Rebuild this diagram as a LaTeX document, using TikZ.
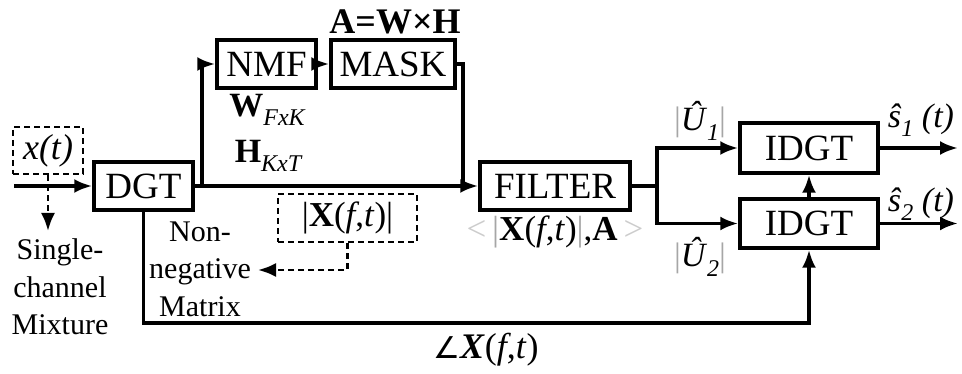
\documentclass[tikz,border=0pt]{standalone}
\usepackage{fontspec}
\setmainfont{Liberation Serif}
\newfontfamily\symfont{DejaVu Sans}
\usetikzlibrary{positioning,arrows.meta,calc}
\newcommand\lowsub[1]{\raisebox{-0.28em}{\fontsize{24}{24}\selectfont\itshape #1}}
\newcommand\thinbar{\textcolor{gray!70}{|}}

\begin{document}
\begin{tikzpicture}[x=1pt,y=-1pt,>={Latex[length=18pt,width=14pt]},line width=3.5pt,
  blk/.style={draw,line width=3.5pt,minimum height=48pt,inner sep=0pt,font=\fontsize{37}{40}\selectfont},
  dblk/.style={draw,line width=2.8pt,dash pattern=on 6pt off 4pt,inner sep=0pt,minimum height=48pt},
  dline/.style={line width=2.8pt,dash pattern=on 6pt off 4pt},
  lbl/.style={inner sep=0pt,align=center,font=\fontsize{30}{37.5}\selectfont},
  mlbl/.style={inner sep=0pt,font=\fontsize{34}{36}\selectfont}]
  \useasboundingbox (0,0) rectangle (962,374);
  % blocks
  \node[blk,minimum width=99pt] (dgt) at (143.5,186) {DGT};
  \node[blk,minimum width=99pt] (nmf) at (266.5,64) {NMF};
  \node[blk,minimum width=124pt] (mask) at (393,64) {MASK};
  \node[blk,minimum width=150pt] (filter) at (555,186) {FILTER};
  \node[blk,minimum width=138pt,minimum height=50pt] (idgt1) at (809,148) {IDGT};
  \node[blk,minimum width=138pt,minimum height=49pt] (idgt2) at (809,223.5) {IDGT};
  \node[dblk,minimum width=70pt,minimum height=47pt,font=\fontsize{36}{38}\selectfont\itshape] (xt) at (48,150.5) {x(t)};
  \node[dblk,minimum width=139pt,font=\fontsize{35}{38}\selectfont] (xabs) at (347.5,218) {|\textbf{X}(\textit{f},\textit{t})|};
  % labels
  \node[lbl] (mix) at (60,287) {Single-\\channel\\Mixture};
  \node[lbl] (nonneg) at (200,269) {Non-\\negative\\Matrix};
  \node[mlbl] (wlab) at (267,110) {\textbf{W}\lowsub{FxK}};
  \node[mlbl] (hlab) at (268,156) {\textbf{H}\lowsub{KxT}};
  \node[mlbl,font=\fontsize{36}{38}\selectfont\bfseries] (awh) at (395,22) {A=W×H};
  \node[mlbl,font=\fontsize{35}{38}\selectfont] (flab) at (555,232) {\textcolor{gray!40}{<}\,\thinbar\textbf{X}(\textit{f},\textit{t})\thinbar,\textbf{A}\,\textcolor{gray!40}{>}};
  \node[mlbl] (u1) at (700,121) {\thinbar\textit{Û}\lowsub{1}\thinbar};
  \node[mlbl] (u2) at (700,257) {\thinbar\textit{Û}\lowsub{2}\thinbar};
  \node[mlbl] (s1) at (921,120) {\textit{ŝ}\lowsub{1} \textit{(t)}};
  \node[mlbl] (s2) at (921,204) {\textit{ŝ}\lowsub{2} \textit{(t)}};
  \node[mlbl,font=\fontsize{36}{38}\selectfont] (ang) at (486,350) {{\symfont\fontsize{30}{36}\selectfont ∠}\textbf{\textit{X}}(\textit{f},\textit{t})};
  % free ends and branch points
  \coordinate (in) at (14,186); \coordinate (mixtip) at (48,231);
  \coordinate (br1) at (202,186); \coordinate (br2) at (463,186); \coordinate (br3) at (657,186);
  \coordinate (out1) at (958,148); \coordinate (out2) at (958,223.5);
  \coordinate (ph) at (809,323); \coordinate (nntip) at (258,270);
  % connectors
  \draw[->] (in) -- (dgt.west);
  \draw[dline,->] (xt.south) -- (mixtip);
  \draw[->] (dgt.east) -- (filter.west);
  \draw[->] (br1) |- (nmf.west);
  \draw[->] (nmf.east) -- (mask.west);
  \draw (mask.east) -| (br2);
  \draw (filter.east) -- (br3);
  \draw[->] (br3) |- (idgt1.west); \draw[->] (br3) |- (idgt2.west);
  \draw[->] (idgt2.north) -- (idgt1.south);
  \draw[->] (idgt1.east) -- (out1); \draw[->] (idgt2.east) -- (out2);
  \draw[->] (dgt.south) |- (ph) -- (idgt2.south);
  \draw[dline,->] (xabs.south) |- (nntip);
\end{tikzpicture}
\end{document}
